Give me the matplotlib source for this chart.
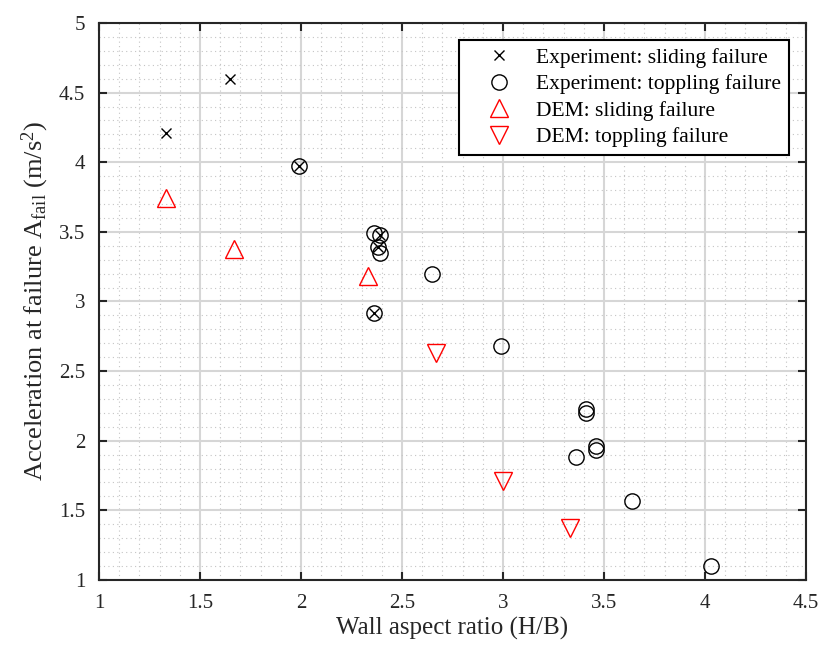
import numpy as np
import matplotlib
matplotlib.use('Agg')
import matplotlib.pyplot as plt

plt.rcParams['font.family'] = ['Liberation Serif', 'DejaVu Serif']
plt.rcParams['mathtext.fontset'] = 'custom'
plt.rcParams['mathtext.rm'] = 'Liberation Serif'
plt.rcParams['mathtext.it'] = 'Liberation Serif:italic'

# experiment, sliding failure (x markers)
exp_slide_x = [1.33, 1.65, 1.99, 2.39, 2.38, 2.36]
exp_slide_y = [4.21, 4.60, 3.97, 3.48, 3.39, 2.92]

# experiment, toppling failure (circles)
exp_topple_x = [1.99, 2.36, 2.39, 2.38, 2.39, 2.36, 2.65, 2.99, 3.41, 3.41, 3.36, 3.46, 3.46, 3.64, 4.03]
exp_topple_y = [3.97, 3.49, 3.48, 3.39, 3.35, 2.92, 3.20, 2.68, 2.23, 2.20, 1.88, 1.96, 1.93, 1.57, 1.10]

# DEM results
dem_slide_x = [1.33, 1.67, 2.33]
dem_slide_y = [3.74, 3.38, 3.18]
dem_topple_x = [2.67, 3.00, 3.33]
dem_topple_y = [2.63, 1.71, 1.37]

fig = plt.figure(figsize=(8.21, 6.48), dpi=100)
ax = fig.add_axes([0.1206, 0.105, 0.861, 0.8595])

ax.plot(exp_slide_x, exp_slide_y, 'x', color='black', ms=7.5, mew=1.0,
        label='Experiment: sliding failure')
ax.plot(exp_topple_x, exp_topple_y, 'o', mfc='none', mec='black', ms=11, mew=1.0,
        label='Experiment: toppling failure')
ax.plot(dem_slide_x, dem_slide_y, '^', mfc='none', mec='red', ms=12.5, mew=1.0,
        label='DEM: sliding failure')
ax.plot(dem_topple_x, dem_topple_y, 'v', mfc='none', mec='red', ms=12.5, mew=1.0,
        label='DEM: toppling failure')

ax.set_xlim(1, 4.5)
ax.set_ylim(1, 5)
ax.set_xticks(np.arange(1, 4.51, 0.5))
ax.set_yticks(np.arange(1, 5.01, 0.5))
ax.set_xticklabels(['1', '1.5', '2', '2.5', '3', '3.5', '4', '4.5'])
ax.set_yticklabels(['1', '1.5', '2', '2.5', '3', '3.5', '4', '4.5', '5'])
ax.set_xticks(np.arange(1, 4.5, 0.1), minor=True)
ax.set_yticks(np.arange(1, 5, 0.1), minor=True)

ax.grid(which='major', color='#d6d6d6', linewidth=1.5, linestyle='-')
ax.grid(which='minor', color='#c4c4c4', linewidth=0.8, linestyle=(0, (1, 3)))
ax.set_axisbelow(True)

ax.tick_params(which='major', direction='in', length=6, width=1.5,
               top=True, right=True, labelsize=15, colors='#262626')
ax.tick_params(axis='x', which='major', pad=10)
ax.tick_params(axis='y', which='major', pad=10)
ax.tick_params(which='minor', length=0, top=True, right=True)
for s in ax.spines.values():
    s.set_linewidth(1.5)
    s.set_color('#262626')

ax.set_xlabel('Wall aspect ratio (H/B)', fontsize=18, color='#262626', labelpad=3)
ax.set_ylabel(r'Acceleration at failure A$_{\mathrm{fail}}$ (m/s$^2$)', fontsize=19,
              color='#262626', labelpad=6)

leg = ax.legend(loc='upper right', bbox_to_anchor=(0.976, 0.9695), borderaxespad=0,
                fontsize=15.5, fancybox=False, framealpha=1, edgecolor='black',
                handlelength=3.0, handletextpad=0.25, borderpad=0.35, labelspacing=0.3)
leg.get_frame().set_linewidth(1.5)

fig.savefig('out.png', dpi=100)
